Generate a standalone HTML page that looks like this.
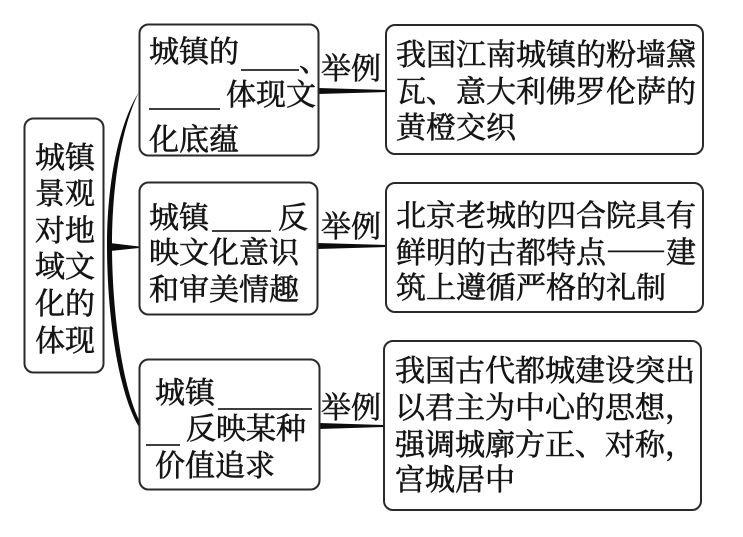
<!DOCTYPE html>
<html lang="zh">
<head>
<meta charset="utf-8">
<style>
html,body{margin:0;padding:0;background:#fff}
svg{display:block}
text{font-family:"Noto Serif CJK SC","Liberation Serif",serif;font-size:30px;fill:#151515;stroke:#151515;stroke-width:.6px}
.b{fill:#fff;stroke:#2a2a2a;stroke-width:2}
.u{stroke:#222;stroke-width:1.8;fill:none}
.c{fill:#0c0c0c;stroke:none}
</style>
</head>
<body>
<svg width="743" height="537" viewBox="0 0 743 537" xmlns="http://www.w3.org/2000/svg">
<rect width="743" height="537" fill="#fff"/>
<g style="filter:blur(.35px)">
<!-- connectors -->
<path class="c" d="M139 92 C120 130 112 190 112 245 C112 310 122 385 139 420 L139 427 C118 392 107 315 107 245 C107 185 118 125 139 92 Z"/>
<path class="c" d="M110 243 L139 246.5 L139 248 L110 251 Z"/>
<path class="c" d="M318 88 L386 90 L386 92 L318 94 Z"/>
<path class="c" d="M317 243 L386 245 L386 247 L317 249 Z"/>
<path class="c" d="M319 423 L385 425 L385 427 L319 429 Z"/>

<!-- boxes -->
<rect class="b" x="24.5" y="118.5" width="79" height="254" rx="9"/>
<rect class="b" x="139.5" y="24.5" width="179" height="131" rx="9"/>
<rect class="b" x="139.5" y="182.5" width="178" height="132" rx="9"/>
<rect class="b" x="139.5" y="359.5" width="180" height="130" rx="9"/>
<rect class="b" x="386" y="25" width="317" height="129" rx="9"/>
<rect class="b" x="386" y="183" width="317" height="129" rx="9"/>
<rect class="b" x="384" y="341" width="317" height="169" rx="9"/>

<!-- root -->
<text x="35" y="168">城镇</text>
<text x="35" y="204">景观</text>
<text x="35" y="241">对地</text>
<text x="35" y="277">域文</text>
<text x="35" y="314">化的</text>
<text x="35" y="351">体现</text>

<!-- box 1 -->
<text x="149" y="62">城镇的</text>
<line class="u" x1="241" y1="70" x2="299" y2="70"/>
<text x="299" y="71">、</text>
<text x="226" y="105">体现文</text>
<line class="u" x1="149" y1="109" x2="220" y2="109"/>
<text x="149" y="150">化底蕴</text>

<!-- box 2 -->
<text x="149" y="228">城镇</text>
<line class="u" x1="212" y1="231" x2="271" y2="231"/>
<text x="278" y="228">反</text>
<text x="149" y="263">映文化意识</text>
<text x="149" y="300">和审美情趣</text>

<!-- box 3 -->
<text x="155" y="403">城镇</text>
<line class="u" x1="218" y1="409" x2="312" y2="409"/>
<text x="186" y="439">反映某种</text>
<line class="u" x1="146" y1="445" x2="180" y2="445"/>
<text x="155" y="476">价值追求</text>

<!-- labels -->
<text x="321" y="79">举例</text>
<text x="321" y="237">举例</text>
<text x="321" y="418">举例</text>

<!-- right 1 -->
<text x="396" y="65">我国江南城镇的粉墙黛</text>
<text x="396" y="102">瓦、意大利佛罗伦萨的</text>
<text x="396" y="138">黄橙交织</text>

<!-- right 2 -->
<text x="396" y="226">北京老城的四合院具有</text>
<text x="396" y="263">鲜明的古都特点——建</text>
<text x="396" y="298">筑上遵循严格的礼制</text>

<!-- right 3 -->
<text x="395" y="381">我国古代都城建设突出</text>
<text x="395" y="418">以君主为中心的思想，</text>
<text x="395" y="455">强调城廓方正、对称，</text>
<text x="395" y="490">宫城居中</text>
</g>
</svg>
</body>
</html>
